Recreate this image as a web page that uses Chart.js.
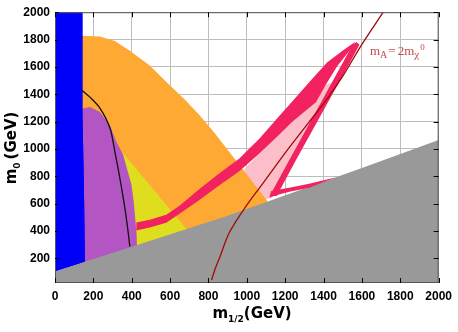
<!DOCTYPE html>
<html>
<head>
<meta charset="utf-8">
<script src="https://cdn.jsdelivr.net/npm/chart.js@4.4.0/dist/chart.umd.min.js"></script>
<style>
  body { margin: 0; background: #fff; }
</style>
</head>
<body>
<canvas id="chart" width="458" height="332"></canvas>
<script>
// tick values (GeV)
var xTicks = [0, 200, 400, 600, 800, 1000, 1200, 1400, 1600, 1800, 2000];
var yTicks = [200, 400, 600, 800, 1000, 1200, 1400, 1600, 1800, 2000];

// region outlines as [m1/2, m0] pairs in GeV
var blueRegion = [[0, 2000], [143, 2000], [143, 1250], [147, 1000], [152, 600], [156, 178], [0, 105]];
var grayRegion = [[0, 105], [400, 285], [900, 512], [1600, 860], [2000, 1065], [2000, 0], [0, 0]];
var orangeRegion = [[100, 1827], [140, 1827], [234, 1823], [312, 1790], [390, 1718], [494, 1610], [582, 1487],
  [675, 1364], [753, 1249], [831, 1118], [899, 996], [1003, 808], [1107, 620], [1107, 0], [100, 0]];
var yellowRegion = [[330, 990], [348, 981], [355, 969], [692, 403], [710, 380], [710, 0], [330, 0]];
var purpleRegion = [[60, 1294], [139, 1294], [182, 1306], [234, 1270], [286, 1174], [320, 1053], [355, 959],
  [379, 837], [398, 743], [410, 620], [418, 497], [426, 367], [431, 20], [432, 0], [60, 0]];
var pinkRegion = [[987, 692], [987, 851], [1065, 967], [1158, 1090], [1236, 1198], [1299, 1270], [1361, 1342],
  [1413, 1473], [1462, 1487], [1405, 1342], [1349, 1198], [1292, 1053], [1235, 909], [1179, 764], [1138, 656], [1075, 613]];
var funnelLeft = [[424, 463], [494, 482], [580, 519], [649, 584], [753, 707], [857, 822], [961, 931], [1065, 1075],
  [1169, 1241], [1247, 1364], [1325, 1487], [1418, 1632], [1506, 1725], [1564, 1783], [1543, 1733], [1470, 1603],
  [1413, 1473], [1361, 1342], [1299, 1270], [1236, 1198], [1158, 1090], [1065, 967], [961, 837], [857, 735],
  [753, 627], [649, 526], [580, 461], [494, 425], [424, 403]];
var funnelRight = [[1572, 1782], [1587, 1762], [1538, 1632], [1481, 1487], [1423, 1342], [1366, 1198], [1309, 1053],
  [1252, 909], [1197, 764], [1156, 656], [1119, 656], [1161, 764], [1217, 909], [1274, 1053], [1330, 1198],
  [1387, 1342], [1444, 1487], [1501, 1632], [1551, 1762]];
var coannStrip = [[1117, 641], [1127, 692], [1221, 717], [1325, 746], [1460, 792], [1325, 717], [1221, 688], [1148, 659]];
var blackCurve = [[140, 1429], [182, 1379], [234, 1299], [286, 1155], [312, 981], [338, 786], [364, 569], [379, 417], [390, 287]];
var mAcurve = [[816, 42], [836, 128], [857, 201], [909, 389], [997, 584], [1081, 743], [1205, 981], [1325, 1198],
  [1418, 1364], [1506, 1545], [1595, 1754], [1714, 2007]];

var blueColor = '#0000f8';

function pts(list) {
  return list.map(function (p) { return { x: p[0], y: p[1] }; });
}

function region(list, color, order) {
  return {
    data: pts(list), order: order, fill: 'shape', backgroundColor: color,
    borderWidth: 0, pointRadius: 0, tension: 0
  };
}

function curve(list, color, order) {
  return {
    data: pts(list), order: order, fill: false, borderColor: color,
    borderWidth: 1.3, pointRadius: 0, tension: 0.3
  };
}

// draws a run of text pieces (for sub/superscripts)
function pieces(ctx, list, x, y, center) {
  var w = 0;
  list.forEach(function (p) { ctx.font = p.font; w += ctx.measureText(p.t).width + (p.gap || 0); });
  if (center) x -= w / 2;
  list.forEach(function (p) {
    ctx.font = p.font;
    ctx.fillText(p.t, x, y + (p.dy || 0));
    x += ctx.measureText(p.t).width + (p.gap || 0);
  });
}

var decor = {
  id: 'decor',
  afterDraw: function (chart) {
    var ctx = chart.ctx, a = chart.chartArea;
    var xs = chart.scales.x, ys = chart.scales.y;

    // blue region sits above the grid
    var meta = chart.getDatasetMeta(5);
    ctx.save();
    ctx.beginPath();
    ctx.rect(a.left, a.top, a.right - a.left, a.bottom - a.top);
    ctx.clip();
    ctx.beginPath();
    meta.dataset.path(ctx);
    ctx.closePath();
    ctx.fillStyle = blueColor;
    ctx.fill();
    ctx.restore();

    // frame and inner ticks
    ctx.save();
    ctx.strokeStyle = '#555';
    ctx.lineWidth = 1;
    ctx.strokeRect(a.left + 0.5, a.top + 0.5, a.right - a.left - 1, a.bottom - a.top - 1);
    ctx.strokeStyle = '#000';
    ctx.beginPath();
    xTicks.forEach(function (v) {
      var p = Math.round(xs.getPixelForValue(v)) + 0.5;
      ctx.moveTo(p, a.top); ctx.lineTo(p, a.top + 5);
      ctx.moveTo(p, a.bottom); ctx.lineTo(p, a.bottom - 5);
    });
    yTicks.forEach(function (v) {
      var p = Math.round(ys.getPixelForValue(v)) + 0.5;
      ctx.moveTo(a.left, p); ctx.lineTo(a.left + 4, p);
      ctx.moveTo(a.right, p); ctx.lineTo(a.right - 5, p);
    });
    ctx.stroke();

    // axis titles
    ctx.fillStyle = '#000';
    ctx.textBaseline = 'alphabetic';
    var big = 'bold 15px "DejaVu Sans"', small = 'bold 9px "DejaVu Sans"';
    pieces(ctx, [{ t: 'm', font: big }, { t: '1/2', font: small, dy: 4 }, { t: '(GeV)', font: big }], 252, 318, true);
    ctx.save();
    ctx.translate(16, 148);
    ctx.rotate(-Math.PI / 2);
    pieces(ctx, [{ t: 'm', font: big }, { t: '0', font: small, dy: 4, gap: 3 }, { t: '(GeV)', font: big }], 0, 0, true);
    ctx.restore();

    // m_A = 2 m_chi label
    ctx.fillStyle = '#c44a4a';
    var s13 = '13px "Liberation Serif"';
    pieces(ctx, [
      { t: 'm', font: s13 }, { t: 'A', font: '10px "Liberation Serif"', dy: 3, gap: 1 }, { t: '=', font: s13, gap: 2 },
      { t: '2m', font: s13 }, { t: '\u03C7', font: '11px "Liberation Serif"', dy: 3, gap: 1 },
      { t: '0', font: '9px "Liberation Serif"', dy: -5 }
    ], 370, 55, false);
    ctx.restore();
  }
};

Chart.defaults.font.family = '"Liberation Sans"';

new Chart(document.getElementById('chart'), {
  type: 'line',
  data: {
    datasets: [
      curve(blackCurve, '#111111', 0),
      curve(mAcurve, '#9e0b0b', 1),
      region(coannStrip, '#f2215f', 2),
      region(funnelRight, '#f2215f', 3),
      region(funnelLeft, '#f2215f', 4),
      region(blueRegion, blueColor, 5),
      region(grayRegion, '#999999', 6),
      region(purpleRegion, '#b455c4', 7),
      region(yellowRegion, '#dede1f', 8),
      region(orangeRegion, '#ffa935', 9),
      region(pinkRegion, '#fcbfc9', 10)
    ]
  },
  options: {
    responsive: false,
    animation: false,
    events: [],
    layout: { padding: { top: 9, right: 18, bottom: 0, left: 0 } },
    plugins: { legend: { display: false }, tooltip: { enabled: false } },
    scales: {
      x: {
        type: 'linear', min: 0, max: 2000, z: 1,
        grid: { color: '#bdbdbd', drawTicks: false },
        border: { display: false },
        afterBuildTicks: function (s) { s.ticks = xTicks.map(function (v) { return { value: v }; }); },
        afterFit: function (s) { s.height = 49; },
        ticks: {
          autoSkip: false, maxRotation: 0, padding: 6, color: '#000',
          font: { size: 12, weight: 'bold' },
          callback: function (v) { return String(v); }
        }
      },
      y: {
        type: 'linear', min: 20, max: 2000, z: 1,
        grid: { color: '#bdbdbd', drawTicks: false },
        border: { display: false },
        afterBuildTicks: function (s) { s.ticks = yTicks.map(function (v) { return { value: v }; }); },
        afterFit: function (s) { s.width = 55; },
        ticks: {
          autoSkip: false, padding: 5, color: '#000',
          font: { size: 12, weight: 'bold' },
          callback: function (v) { return String(v); }
        }
      }
    }
  },
  plugins: [decor]
});
</script>
</body>
</html>
